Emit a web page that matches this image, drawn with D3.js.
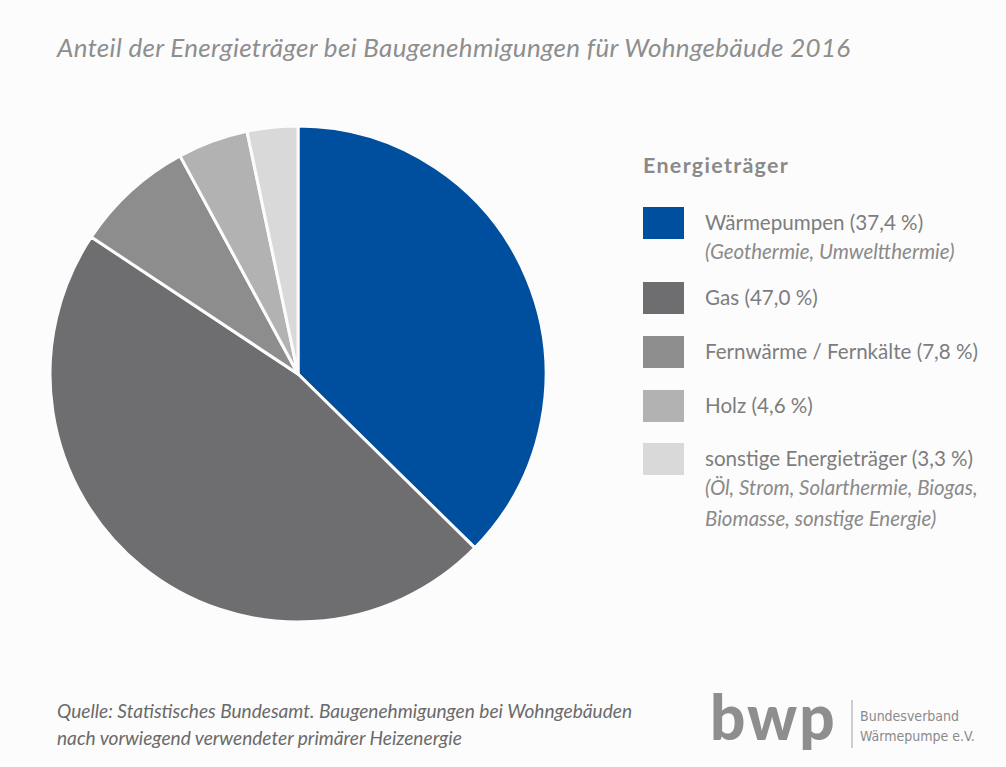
<!DOCTYPE html>
<html>
<head>
<meta charset="utf-8">
<script src="https://cdn.jsdelivr.net/npm/d3@7"></script>
<style>
  body { margin: 0; background: #fcfcfc; }
  svg { display: block; }
</style>
</head>
<body>
<script>
let width = 1006;
let height = 767;

// data
let categories = ['Wärmepumpen', 'Gas', 'Fernwärme / Fernkälte', 'Holz', 'sonstige Energieträger'];
let values = [37.4, 47.0, 7.8, 4.6, 3.3];
let notes = [
    ['(Geothermie, Umweltthermie)'],
    [],
    [],
    [],
    ['(Öl, Strom, Solarthermie, Biogas,', 'Biomasse, sonstige Energie)']
];
let colors = ['#004f9f', '#6e6e70', '#8d8d8e', '#b2b2b2', '#d9d9d9'];

let fmt = v => v.toFixed(1).replace('.', ',');
let data = categories.map((c, i) => ({ name: c, value: values[i], note: notes[i], color: colors[i] }));

let svg = d3.select('body').append('svg')
            .attr('width', width)
            .attr('height', height);

svg.append('rect')
   .attr('width', width)
   .attr('height', height)
   .attr('fill', '#fcfcfc');

// title
svg.append('text')
   .attr('x', 57)
   .attr('y', 57)
   .attr('font-family', 'Lato, sans-serif')
   .attr('font-style', 'italic')
   .attr('font-size', 26)
   .attr('letter-spacing', 0.3)
   .attr('fill', '#8e8e8e')
   .text('Anteil der Energieträger bei Baugenehmigungen für Wohngebäude 2016');

// pie
let cx = 298, cy = 374, r = 248;
let pie = d3.pie().value(d => d.value).sort(null);
let arc = d3.arc().innerRadius(0).outerRadius(r);

svg.append('g')
   .attr('transform', `translate(${cx},${cy})`)
   .selectAll('path')
   .data(pie(data))
   .enter()
   .append('path')
   .attr('d', arc)
   .attr('fill', d => d.data.color)
   .attr('stroke', '#fcfcfc')
   .attr('stroke-width', 3)
   .attr('stroke-linejoin', 'round');

// legend
let legend = svg.append('g').attr('transform', 'translate(643,0)');

legend.append('text')
      .attr('x', 0)
      .attr('y', 173)
      .attr('font-family', 'Lato, sans-serif')
      .attr('font-weight', 'bold')
      .attr('font-size', 21.5)
      .attr('letter-spacing', 1.3)
      .attr('fill', '#8a8a8a')
      .text('Energieträger');

let rowY = [207, 282, 336, 390, 443];

let rows = legend.selectAll('g.row').data(data)
                 .enter()
                 .append('g')
                 .attr('class', 'row')
                 .attr('transform', (d, i) => `translate(0,${rowY[i]})`);

rows.append('rect')
    .attr('x', 0)
    .attr('y', 0)
    .attr('width', 41)
    .attr('height', 32)
    .attr('fill', d => d.color);

rows.append('text')
    .attr('x', 62)
    .attr('y', 23)
    .attr('font-family', 'Lato, sans-serif')
    .attr('font-size', 20.6)
    .attr('fill', '#7d7d7d')
    .text(d => `${d.name} (${fmt(d.value)} %)`);

rows.each(function(d) {
    d3.select(this).selectAll('text.note').data(d.note)
      .enter()
      .append('text')
      .attr('class', 'note')
      .attr('x', 62)
      .attr('y', (n, j) => 52 + j * 31)
      .attr('font-family', 'Lato, sans-serif')
      .attr('font-style', 'italic')
      .attr('font-size', 20.5)
      .attr('fill', '#8a8a8a')
      .text(n => n);
});

// source
let source = ['Quelle: Statistisches Bundesamt. Baugenehmigungen bei Wohngebäuden',
              'nach vorwiegend verwendeter primärer Heizenergie'];
svg.selectAll('text.src').data(source)
   .enter()
   .append('text')
   .attr('class', 'src')
   .attr('x', 57)
   .attr('y', (d, i) => 718 + i * 27)
   .attr('font-family', 'Lato, sans-serif')
   .attr('font-style', 'italic')
   .attr('font-size', 19.1)
   .attr('fill', '#6a6a6a')
   .text(d => d);

// logo
let logo = svg.append('g');
logo.append('text')
    .attr('x', 710)
    .attr('y', 740)
    .attr('font-family', 'Lato, sans-serif')
    .attr('font-weight', 900)
    .attr('font-size', 62)
    .attr('letter-spacing', 2)
    .attr('fill', '#8e8e8e')
    .text('bwp');
logo.append('line')
    .attr('x1', 852).attr('x2', 852)
    .attr('y1', 700).attr('y2', 748)
    .attr('stroke', '#a0a0a0')
    .attr('stroke-width', 1);
logo.selectAll('text.org').data(['Bundesverband', 'Wärmepumpe e.V.'])
    .enter()
    .append('text')
    .attr('class', 'org')
    .attr('x', 860)
    .attr('y', (d, i) => 721 + i * 20)
    .attr('font-family', '"DejaVu Sans Condensed", "DejaVu Sans", sans-serif')
    .attr('font-size', 14)
    .attr('fill', '#8a8a8a')
    .text(d => d);
</script>
</body>
</html>
